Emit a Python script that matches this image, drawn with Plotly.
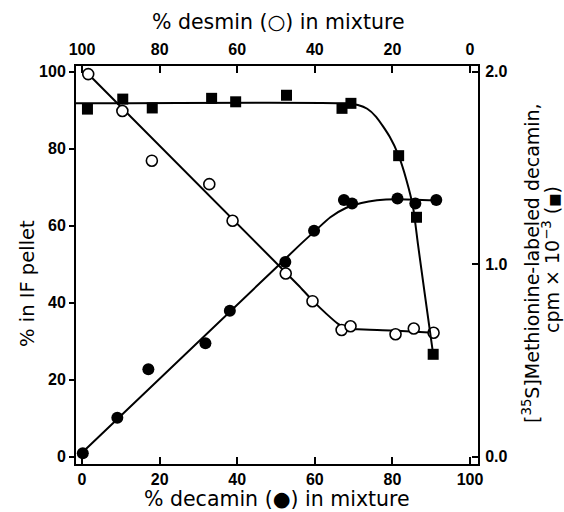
import plotly.graph_objects as go

# ---------------- data ----------------
# x = % decamin in mixture (bottom axis); top axis shows % desmin = 100 - x
decamin_x = [0.2, 9.1, 17.1, 31.8, 38.1, 52.4, 59.8, 67.5, 69.6, 81.3, 85.9, 91.3]
decamin_y = [0.9, 10.1, 22.7, 29.5, 37.9, 50.6, 58.7, 66.7, 65.8, 67.1, 65.8, 66.7]

desmin_x = [1.6, 10.4, 18.0, 32.8, 38.8, 52.5, 59.4, 66.9, 69.2, 80.8, 85.5, 90.6]
desmin_y = [99.4, 89.8, 76.9, 70.8, 61.3, 47.6, 40.4, 32.9, 33.9, 31.8, 33.3, 32.2]

label_x = [1.4, 10.5, 18.1, 33.4, 39.6, 52.7, 67.0, 69.3, 81.6, 86.2, 90.5]
label_cpm = [1.806, 1.858, 1.812, 1.862, 1.844, 1.878, 1.810, 1.836, 1.564, 1.244, 0.532]

# hand-drawn fitted curves
decamin_fit_x = [0, 50, 56, 60, 64, 68, 72, 76, 81, 91.3]
decamin_fit_y = [1, 49.1, 54.9, 58.6, 62.2, 64.6, 65.9, 66.6, 66.9, 66.6]

desmin_fit_x = [1.6, 56, 59.4, 63, 66, 68, 71, 80, 90.6]
desmin_fit_y = [99.4, 44.3, 40.6, 37.1, 34.5, 33.4, 33.1, 32.8, 32.2]

label_fit_x = [-1.55, 68, 71.1, 73.5, 75.8, 79.3, 81.6, 83.6, 85.3, 86.6, 88.3, 90.5]
label_fit_cpm = [1.836, 1.836, 1.827, 1.808, 1.766, 1.662, 1.564, 1.438, 1.298, 1.10, 0.85, 0.532]

x_ticks = [0, 20, 40, 60, 80, 100]
top_ticks = [100, 80, 60, 40, 20, 0]
y_ticks = [0, 20, 40, 60, 80, 100]
right_ticks = [0.0, 1.0, 2.0]

# ---------------- figure ----------------
X_RANGE = [-1.55, 102.05]
Y_RANGE = [-1.9, 101.5]

tick_font = dict(family="Liberation Sans, Arial, sans-serif", size=16, color="black", weight="bold")
title_font = dict(family="DejaVu Sans, sans-serif", size=20.5, color="black")
left_font = dict(family="DejaVu Sans, sans-serif", size=19.5, color="black")
right_font = dict(family="DejaVu Sans, sans-serif", size=19, color="black")

fig = go.Figure()

line_style = dict(color="black", width=2)

fig.add_trace(go.Scatter(x=decamin_fit_x, y=decamin_fit_y, mode="lines",
                         line=dict(shape="spline", smoothing=0.6, **line_style),
                         hoverinfo="skip", showlegend=False))
fig.add_trace(go.Scatter(x=desmin_fit_x, y=desmin_fit_y, mode="lines",
                         line=dict(shape="spline", smoothing=0.6, **line_style),
                         hoverinfo="skip", showlegend=False))
fig.add_trace(go.Scatter(x=label_fit_x, y=label_fit_cpm, mode="lines", yaxis="y2",
                         line=dict(shape="spline", smoothing=0.6, **line_style),
                         hoverinfo="skip", showlegend=False))

fig.add_trace(go.Scatter(x=label_x, y=label_cpm, mode="markers", yaxis="y2",
                         marker=dict(symbol="square", size=11, color="black"),
                         name="[35S]decamin", showlegend=False))
fig.add_trace(go.Scatter(x=decamin_x, y=decamin_y, mode="markers",
                         marker=dict(symbol="circle", size=12, color="black"),
                         name="decamin", showlegend=False))
fig.add_trace(go.Scatter(x=desmin_x, y=desmin_y, mode="markers",
                         marker=dict(symbol="circle", size=11, color="white",
                                     line=dict(color="black", width=1.6)),
                         name="desmin", showlegend=False))
# invisible trace so that the top axis is rendered
fig.add_trace(go.Scatter(x=[100 - v for v in desmin_x], y=desmin_y, xaxis="x2",
                         mode="markers", marker=dict(opacity=0, size=1), hoverinfo="skip",
                         showlegend=False))

fig.update_layout(
    width=564, height=512,
    margin=dict(l=76, r=86, t=66, b=48),
    paper_bgcolor="white", plot_bgcolor="white",
    showlegend=False,
    xaxis=dict(range=X_RANGE, tickvals=x_ticks, ticks="inside", ticklen=7, tickwidth=1.5,
               tickcolor="black", showline=True, linecolor="black", linewidth=2,
               showgrid=False, zeroline=False, tickfont=tick_font, ticklabelstandoff=0),
    xaxis2=dict(range=[100 - X_RANGE[0], 100 - X_RANGE[1]], overlaying="x", side="top",
                tickvals=top_ticks, ticks="inside", ticklen=7, tickwidth=1.5,
                tickcolor="black", showline=True, linecolor="black", linewidth=2,
                showgrid=False, zeroline=False, tickfont=tick_font, ticklabelstandoff=3),
    yaxis=dict(range=Y_RANGE, tickvals=y_ticks, ticks="outside", ticklen=5, tickwidth=1.5,
               tickcolor="black", showline=True, linecolor="black", linewidth=2,
               showgrid=False, zeroline=False, tickfont=tick_font, ticklabelstandoff=0),
    yaxis2=dict(range=[Y_RANGE[0] / 50, Y_RANGE[1] / 50], overlaying="y", side="right",
                tickvals=right_ticks, tickformat=".1f", ticks="inside", ticklen=6,
                tickwidth=1.5, tickcolor="black", showline=True, linecolor="black",
                linewidth=2, showgrid=False, zeroline=False, tickfont=tick_font,
                ticklabelstandoff=2),
    annotations=[
        dict(text="% desmin (○) in mixture", xref="paper", yref="paper",
             x=0.5025, y=1.1106, xanchor="center", yanchor="middle",
             showarrow=False, font=title_font),
        dict(text="% decamin (●) in mixture", xref="paper", yref="paper",
             x=0.4988, y=-0.088, xanchor="center", yanchor="middle",
             showarrow=False, font=title_font),
        dict(text="% in IF pellet", xref="paper", yref="paper",
             x=(27 - 76) / 402, y=(464 - 284) / 398, xanchor="center", yanchor="middle",
             textangle=-90, showarrow=False, font=left_font),
        dict(text="[<sup>35</sup>S]Methionine-labeled decamin,",
             xref="paper", yref="paper", x=(531 - 76) / 402, y=(464 - 263) / 398,
             xanchor="center", yanchor="middle", textangle=-90, showarrow=False,
             font=right_font),
        dict(text="cpm × 10<sup>−3</sup> (<span style='font-size:14px'>■</span>)",
             xref="paper", yref="paper", x=(551 - 76) / 402, y=(464 - 260) / 398,
             xanchor="center", yanchor="middle", textangle=-90, showarrow=False,
             font=right_font),
    ],
)

fig.write_html("out.html")
